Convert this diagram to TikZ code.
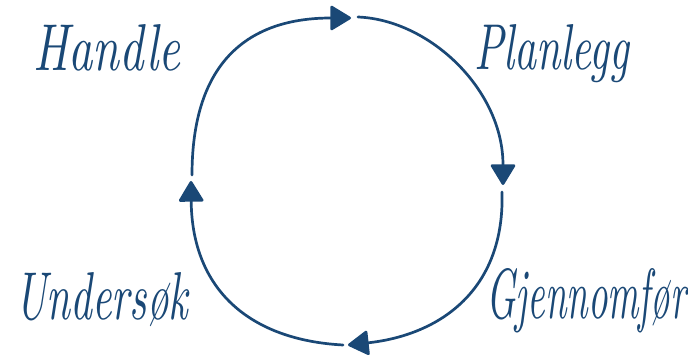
\documentclass[tikz,border=0pt]{standalone}
\usetikzlibrary{arrows.meta}
\definecolor{ink}{RGB}{26,72,118}
\tikzset{
  cycleline/.style={draw=ink, line width=2.7pt, line cap=round,
    -{Triangle[length=22pt,width=26pt,round]}},
  hand/.style={inner sep=0pt, anchor=base west, text=ink}
}
\begin{document}
\begin{tikzpicture}[x=1pt,y=-1pt]
\useasboundingbox (0,0) rectangle (688,355);
% labels
\node[hand] (handle) at (33,71) {\resizebox{147pt}{46pt}{\itshape Handle}};
\node[hand] (planlegg) at (474,70) {\resizebox{155pt}{45pt}{\itshape Planlegg}};
\node[hand] (undersok) at (15,320) {\resizebox{173pt}{47pt}{\itshape Undersøk}};
\node[hand] (gjennomfor) at (486,318) {\resizebox{200pt}{50pt}{\itshape Gjennomfør}};
% arc end points
\coordinate (l0) at (192,175);
\coordinate (t1) at (351,18);
\coordinate (t0) at (358,17);
\coordinate (r1) at (503,185);
\coordinate (r0) at (502,192);
\coordinate (b1) at (348,345);
\coordinate (b0) at (343,345);
\coordinate (l1) at (191,181);
% arcs
\draw[cycleline] (l0) .. controls (192,60) and (250,18) .. (t1);
\draw[cycleline] (t0) .. controls (430,20) and (503,90) .. (r1);
\draw[cycleline] (r0) .. controls (505,290) and (440,335) .. (b1);
\draw[cycleline] (b0) .. controls (250,340) and (192,290) .. (l1);
\end{tikzpicture}
\end{document}
